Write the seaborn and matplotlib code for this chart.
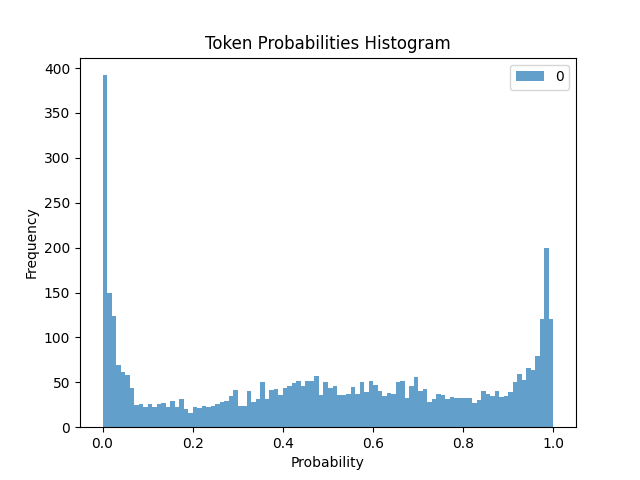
import matplotlib
matplotlib.use("Agg")
import matplotlib.pyplot as plt
import seaborn as sns
import numpy as np
import pandas as pd

counts = [392, 150, 124, 69, 62, 58, 44, 25, 26, 23,
          26, 23, 26, 27, 23, 29, 23, 31, 20, 16,
          22, 21, 24, 22, 24, 26, 28, 29, 35, 41,
          24, 24, 40, 28, 31, 50, 31, 41, 43, 36,
          44, 46, 49, 52, 46, 51, 52, 57, 36, 50,
          44, 46, 36, 36, 37, 45, 37, 50, 39, 51,
          47, 40, 35, 38, 37, 50, 51, 32, 46, 56,
          40, 42, 28, 31, 37, 36, 31, 34, 32, 33,
          33, 33, 27, 30, 40, 37, 35, 40, 34, 35,
          39, 50, 59, 53, 66, 64, 79, 120, 200, 121]
n_bins = 100
centers = (np.arange(n_bins) + 0.5) / n_bins

df = pd.DataFrame({"p": centers, "w": counts})

fig, ax = plt.subplots(figsize=(6.4, 4.8), dpi=100)
sns.histplot(data=df, x="p", weights="w", bins=n_bins, binrange=(0, 1),
             color="#1f77b4", alpha=0.7, linewidth=0, ax=ax, label="0")
ax.set_title("Token Probabilities Histogram")
ax.set_xlabel("Probability")
ax.set_ylabel("Frequency")
ax.legend(loc="upper right")
fig.savefig("out.png", dpi=100)
